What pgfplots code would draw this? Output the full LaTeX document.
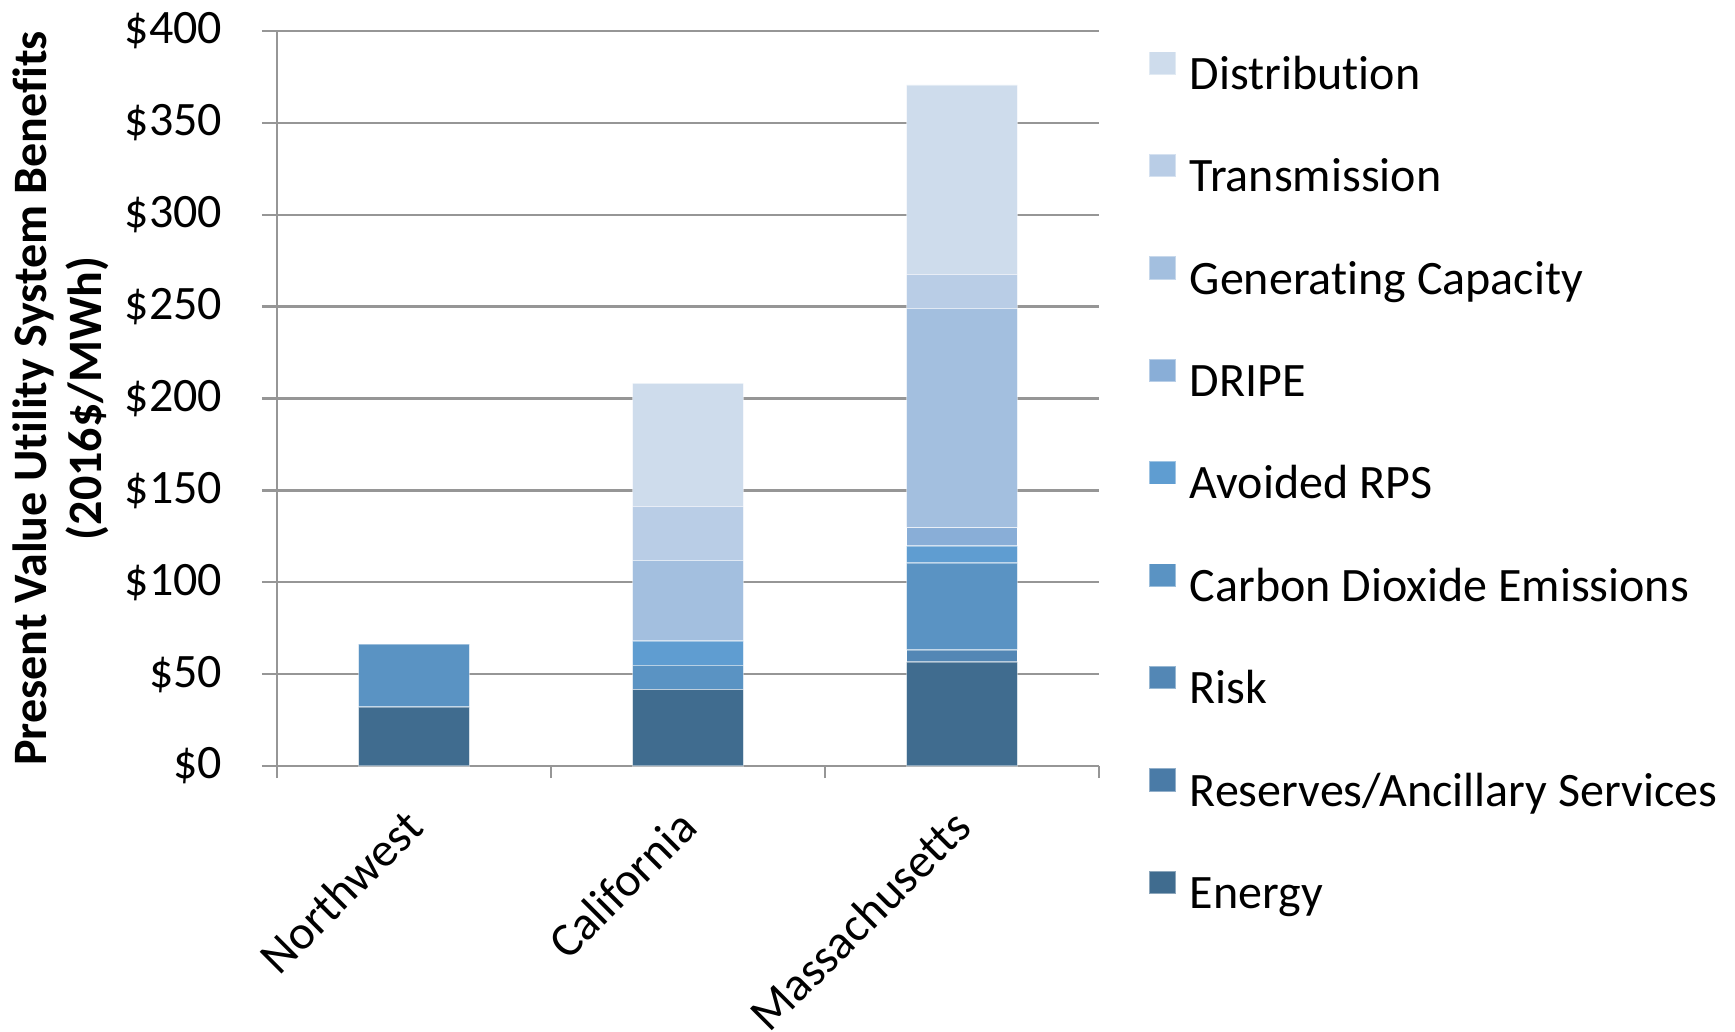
\documentclass[border=0pt]{standalone}
\usepackage{fontspec}
\setmainfont{Carlito}[Ligatures={NoCommon,NoContextual}, RawFeature={-liga;-clig;-calt}]
\usepackage{pgfplots}
\pgfplotsset{compat=1.18}

\definecolor{cEnergy}{HTML}{406C8F}
\definecolor{cReserves}{HTML}{4A7BA7}
\definecolor{cRisk}{HTML}{5387B5}
\definecolor{cCO2}{HTML}{5A93C3}
\definecolor{cRPS}{HTML}{5F9DD1}
\definecolor{cDRIPE}{HTML}{89AED7}
\definecolor{cGen}{HTML}{A3BFDF}
\definecolor{cTrans}{HTML}{B9CDE6}
\definecolor{cDist}{HTML}{CEDCEC}
\definecolor{gridgray}{HTML}{969696}

\begin{document}
\fontsize{12}{14}\selectfont
\begin{tikzpicture}
\begin{axis}[
    at={(0,0)}, anchor=south west,
    scale only axis,
    width=205.5pt, height=183.75pt,
    ybar stacked, bar width=27.7pt,
    xmin=-0.5, xmax=2.5, ymin=0, ymax=400,
    xtick={0,1,2},
    xticklabels={Northwest,California,Massachusetts},
    minor xtick={-0.5,0.5,1.5,2.5},
    ytick={0,50,...,400},
    yticklabels={\$0,\$50,\$100,\$150,\$200,\$250,\$300,\$350,\$400},
    axis x line*=bottom, axis y line*=left,
    axis line style={draw=gridgray, line width=0.6pt},
    tick align=outside,
    major x tick style={draw=none},
    minor x tick style={draw=gridgray, line width=0.6pt},
    minor tick length=3pt,
    y tick style={draw=gridgray, line width=0.6pt},
    major tick length=3.75pt,
    ymajorgrids,
    grid style={draw=gridgray, line width=0.6pt},
    tick label style={font=\fontsize{12}{14}\selectfont},
    yticklabel style={xshift=-5.8pt},
    xticklabel style={rotate=45, anchor=east, xshift=-2.5pt, yshift=-6.6pt},
    ylabel={\textbf{Present Value Utility System Benefits}\\\textbf{(2016\$/MWh)}},
    ylabel style={align=center, font=\fontsize{12}{13.8}\selectfont,
        at={(rel axis cs:0,0.5)}, anchor=center, yshift=54pt},
    legend style={at={(rel axis cs:1,1)}, anchor=north west,
        xshift=12.2pt, yshift=-4.75pt, draw=none, fill=none, inner sep=0pt,
        row sep=13.5pt,
        nodes={inner sep=0pt, text height=8.5pt, text depth=2.5pt},
        font=\fontsize{12}{14}\selectfont,
        /tikz/every odd column/.append style={column sep=3.3pt}},
    legend cell align=left,
    reverse legend,
    legend image code/.code={\fill[#1] (0pt,0.6pt) rectangle (6.6pt,6.4pt);},
    every axis plot/.append style={draw=white, draw opacity=0.4, line width=0.4pt},
]
\addplot[fill=cEnergy]   coordinates {(0,32.0) (1,41.6) (2,56.7)};
\addlegendentry{Energy}
\addplot[fill=cReserves] coordinates {(0,0) (1,0) (2,0)};
\addlegendentry{Reserves/Ancillary Services}
\addplot[fill=cRisk]     coordinates {(0,0) (1,0) (2,6.5)};
\addlegendentry{Risk}
\addplot[fill=cCO2]      coordinates {(0,34.4) (1,13.2) (2,47.4)};
\addlegendentry{Carbon Dioxide Emissions}
\addplot[fill=cRPS]      coordinates {(0,0) (1,13.3) (2,9.0)};
\addlegendentry{Avoided RPS}
\addplot[fill=cDRIPE]    coordinates {(0,0) (1,0) (2,10.2)};
\addlegendentry{DRIPE}
\addplot[fill=cGen]      coordinates {(0,0) (1,43.7) (2,119.1)};
\addlegendentry{Generating Capacity}
\addplot[fill=cTrans]    coordinates {(0,0) (1,29.4) (2,18.5)};
\addlegendentry{Transmission}
\addplot[fill=cDist]     coordinates {(0,0) (1,67.1) (2,103.3)};
\addlegendentry{Distribution}
\end{axis}
\pgfresetboundingbox
\path (-69.25pt,-66.25pt) rectangle ++(433.75pt,257.75pt);
\end{tikzpicture}
\end{document}
